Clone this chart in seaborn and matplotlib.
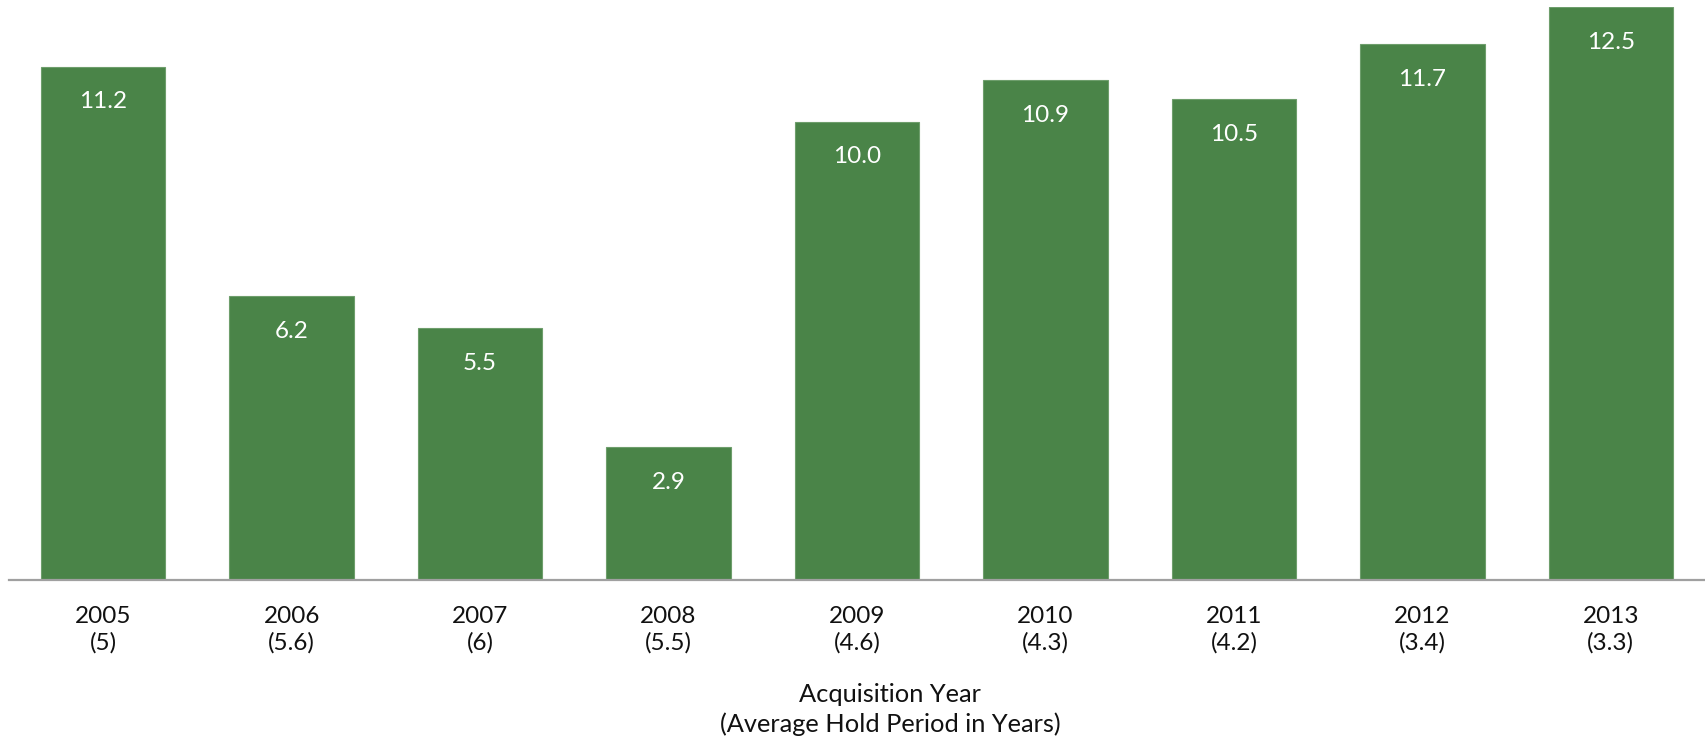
import matplotlib
matplotlib.use("Agg")
import matplotlib.pyplot as plt
import seaborn as sns
import pandas as pd

years = ["2005", "2006", "2007", "2008", "2009", "2010", "2011", "2012", "2013"]
hold_periods = ["5", "5.6", "6", "5.5", "4.6", "4.3", "4.2", "3.4", "3.3"]
values = [11.2, 6.2, 5.5, 2.9, 10.0, 10.9, 10.5, 11.7, 12.5]

sns.set_theme(style="white")
plt.rcParams['font.family'] = ['Lato', 'DejaVu Sans']

labels = [f"{y}\n({h})" for y, h in zip(years, hold_periods)]
df = pd.DataFrame({"label": labels, "value": values})

fig = plt.figure(figsize=(17.05, 7.38), dpi=100)
ax = fig.add_axes([9 / 1705, 1 - 580 / 738, 1 - 9 / 1705, (580 - 7) / 738])

sns.barplot(data=df, x="label", y="value", color="#4A8448", saturation=1,
            width=0.66, ax=ax, edgecolor="#6E9E6C", linewidth=0.8)

ax.set_xlim(-0.5, 8.5)
ax.set_ylim(0, 12.5)
ax.set_yticks([])
ax.set_ylabel("")
ax.set_xlabel("Acquisition Year\n(Average Hold Period in Years)", fontsize=18.3,
              color="#111111", linespacing=1.3)
ax.xaxis.set_label_coords((890 - 9) / 1696, -0.18, transform=ax.transAxes)
ax.xaxis.label.set_va("top")
for s in ["top", "right", "left"]:
    ax.spines[s].set_visible(False)
ax.spines["bottom"].set_color("#A0A0A0")
ax.spines["bottom"].set_linewidth(1.6)
ax.tick_params(axis="x", length=0, pad=19, labelsize=17.5, labelcolor="#111111")
for t in ax.get_xticklabels():
    t.set_linespacing(1.28)

for c in ax.containers:
    ax.bar_label(c, labels=[f"{v:.1f}" for v in values], label_type="edge",
                 padding=-33, color="white", fontsize=17.5)

fig.savefig("out.png", dpi=100)
